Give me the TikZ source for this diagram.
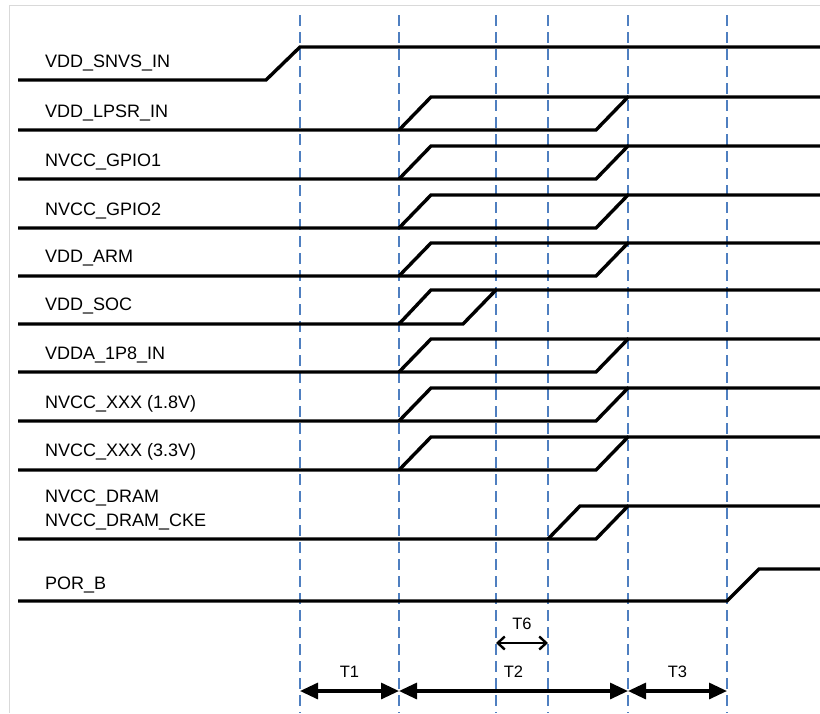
\documentclass[tikz,border=0pt]{standalone}
\usepackage{fontspec}
\setmainfont{Liberation Sans}
\usetikzlibrary{arrows.meta, positioning}

\definecolor{markblue}{HTML}{4F7FC0}
\definecolor{framegray}{HTML}{D9D9D9}

\begin{document}
\begin{tikzpicture}[
        x=1pt, y=-1pt,
        sig/.style={line width=3.4pt, line join=miter},
        mark line/.style={draw=markblue, line width=2.2pt, dash pattern=on 11pt off 6pt},
        lbl/.style={anchor=west, inner sep=0pt, font=\fontsize{18}{21}\selectfont},
        span/.style={line width=3.2pt, {Triangle[length=18pt, width=16pt]}-{Triangle[length=18pt, width=16pt]}},
        gap/.style={line width=2.4pt, {Straight Barb[length=7pt, width=13pt]}-{Straight Barb[length=7pt, width=13pt]}},
        tlbl/.style={inner sep=0pt, font=\fontsize{16.5}{18}\selectfont}
    ]
        \useasboundingbox (0,0) rectangle (820,713);
        \draw[framegray, line width=1pt] (9,713) -- (9,5) -- (820,5);

        % time marks
        \coordinate (m0) at (300,15);
        \coordinate (m1) at (399,15);
        \coordinate (m2) at (496,15);
        \coordinate (m3) at (548,15);
        \coordinate (m4) at (628,15);
        \coordinate (m5) at (727,15);
        \draw[mark line] (m0) -- (m0 |- 0,713);
        \draw[mark line] (m1) -- (m1 |- 0,713);
        \draw[mark line] (m2) -- (m2 |- 0,713);
        \draw[mark line] (m3) -- (m3 |- 0,713);
        \draw[mark line] (m4) -- (m4 |- 0,713);
        \draw[mark line] (m5) -- (m5 |- 0,713);

        % signal names
        \node[lbl] (snvs)  at (45,63)  {VDD\_SNVS\_IN};
        \node[lbl] (lpsr)  at (45,113) {VDD\_LPSR\_IN};
        \node[lbl] (gpio1) at (45,162) {NVCC\_GPIO1};
        \node[lbl] (gpio2) at (45,211) {NVCC\_GPIO2};
        \node[lbl] (arm)   at (45,258) {VDD\_ARM};
        \node[lbl] (soc)   at (45,306) {VDD\_SOC};
        \node[lbl] (ana)   at (45,355) {VDDA\_1P8\_IN};
        \node[lbl] (xlow)  at (45,404) {NVCC\_XXX (1.8V)};
        \node[lbl] (xhigh) at (45,452) {NVCC\_XXX (3.3V)};
        \node[lbl] (dram)  at (45,498) {NVCC\_DRAM};
        \node[lbl] (cke)   at (45,522) {NVCC\_DRAM\_CKE};
        \node[lbl] (por)   at (45,585) {POR\_B};

        % waveforms
        \draw[sig] (18,80) -- (266,80) -- (300,47) -- (820,47);

        \draw[sig] (18,130) -- (596,130) -- (628,97) -- (820,97);
        \draw[sig] (399,130) -- (431,97) -- (628,97);

        \draw[sig] (18,179) -- (596,179) -- (628,146) -- (820,146);
        \draw[sig] (399,179) -- (431,146) -- (628,146);

        \draw[sig] (18,228) -- (596,228) -- (628,195) -- (820,195);
        \draw[sig] (399,228) -- (431,195) -- (628,195);

        \draw[sig] (18,276) -- (596,276) -- (628,243) -- (820,243);
        \draw[sig] (399,276) -- (431,243) -- (628,243);

        \draw[sig] (18,324) -- (463,324) -- (496,290) -- (820,290);
        \draw[sig] (399,324) -- (431,290) -- (496,290);

        \draw[sig] (18,372) -- (596,372) -- (628,339) -- (820,339);
        \draw[sig] (399,372) -- (431,339) -- (628,339);

        \draw[sig] (18,421) -- (596,421) -- (628,388) -- (820,388);
        \draw[sig] (399,421) -- (431,388) -- (628,388);

        \draw[sig] (18,470) -- (596,470) -- (628,437) -- (820,437);
        \draw[sig] (399,470) -- (431,437) -- (628,437);

        \draw[sig] (18,539) -- (596,539) -- (628,506) -- (820,506);
        \draw[sig] (548,539) -- (580,506) -- (628,506);

        \draw[sig] (18,601) -- (727,601) -- (759,569) -- (820,569);

        % intervals
        \coordinate (g0) at (m2 |- 0,643);
        \coordinate (g1) at (m3 |- 0,643);
        \draw[gap] (g0) -- node[tlbl, above=12pt] (t6) {T6} (g1);

        \coordinate (s0) at (m0 |- 0,691);
        \coordinate (s1) at (m1 |- 0,691);
        \coordinate (s2) at (m4 |- 0,691);
        \coordinate (s3) at (m5 |- 0,691);
        \draw[span] (s0) -- node[tlbl, above=12pt] (t1) {T1} (s1);
        \draw[span] (s1) -- node[tlbl, above=12pt] (t2) {T2} (s2);
        \draw[span] (s2) -- node[tlbl, above=12pt] (t3) {T3} (s3);
    \end{tikzpicture}
\end{document}
